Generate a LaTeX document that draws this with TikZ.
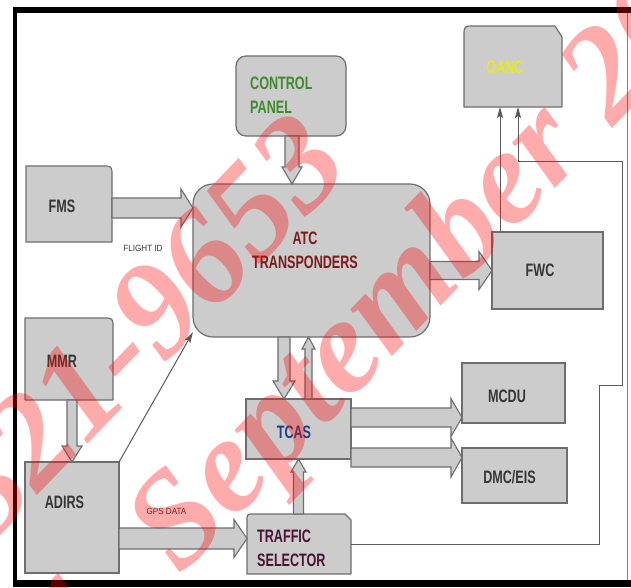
\documentclass[tikz,border=0pt]{standalone}
\usepackage{fontspec}
\setmainfont{Liberation Sans}[FakeStretch=0.70]
\newfontfamily\lblfont{Liberation Sans}[FakeStretch=0.90]
\newfontfamily\wmfont{Liberation Serif}
\usetikzlibrary{calc,arrows.meta}
\pgfdeclarelayer{bg}
\pgfdeclarelayer{wm}
\pgfsetlayers{bg,main,wm}
\definecolor{boxfill}{HTML}{CCCCCC}
\definecolor{boxline}{HTML}{6E6E6E}
\definecolor{linegray}{HTML}{5A5A5A}
\definecolor{txtgray}{HTML}{363636}
\definecolor{atcred}{HTML}{7B1C1C}
\definecolor{cpgreen}{HTML}{3F8A2E}
\definecolor{oancyel}{HTML}{E8E826}
\definecolor{tcasblue}{HTML}{1F3C88}
\definecolor{tspurple}{HTML}{4A1236}
\tikzset{
  box/.style={draw=boxline, fill=boxfill, line width=1.2pt, inner sep=0pt, outer sep=0pt},
  ghost/.style={inner sep=0pt, outer sep=0pt},
  shp/.style={draw=boxline, fill=boxfill, line width=1.2pt, line join=round},
  boxtxt/.style={font=\fontsize{18}{24}\selectfont\bfseries, text=txtgray, inner sep=0pt, align=center},
  lbl/.style={font=\lblfont\fontsize{9}{10}\selectfont, text=txtgray, inner sep=0pt},
  fat/.style={draw=boxline, fill=boxfill, line width=1.1pt, line join=miter},
  fatR/.style n args={3}{fat, to path={let \p1=(\tikztostart), \p2=(\tikztotarget) in
     (\x1,\y1+#1) -- (\x2-#3,\y1+#1) -- (\x2-#3,\y1+#2) -- (\x2,\y1) -- (\x2-#3,\y1-#2) -- (\x2-#3,\y1-#1) -- (\x1,\y1-#1) -- cycle}},
  fatD/.style n args={3}{fat, to path={let \p1=(\tikztostart), \p2=(\tikztotarget) in
     (\x1-#1,\y1) -- (\x1-#1,\y2+#3) -- (\x1-#2,\y2+#3) -- (\x1,\y2) -- (\x1+#2,\y2+#3) -- (\x1+#1,\y2+#3) -- (\x1+#1,\y1) -- cycle}},
  fatU/.style n args={3}{fat, to path={let \p1=(\tikztostart), \p2=(\tikztotarget) in
     (\x1-#1,\y1) -- (\x1-#1,\y2-#3) -- (\x1-#2,\y2-#3) -- (\x1,\y2) -- (\x1+#2,\y2-#3) -- (\x1+#1,\y2-#3) -- (\x1+#1,\y1) -- cycle}},
  thinarr/.style={draw=linegray, line width=1pt, -{Stealth[length=11pt,width=6pt,inset=2pt]}},
  wm/.style={text=red, text opacity=0.33, font=\wmfont\bfseries\itshape\fontsize{136}{136}\selectfont, inner sep=0pt}
}
\begin{document}
\begin{tikzpicture}[x=1pt,y=-1pt]
\useasboundingbox (0,0) rectangle (631,587);
\begin{pgfonlayer}{bg}
  \fill[white] (0,0) rectangle (631,587);
\end{pgfonlayer}

% frame
\fill[black] (13,7) rectangle (631,13);
\fill[black] (13,7) rectangle (17,587);
\fill[black] (13,580) rectangle (631,587);
\draw[gray, line width=1pt] (627.5,13) -- (627.5,580);

% boxes
\node[box, rounded corners=10pt, minimum width=110pt, minimum height=80pt] (cp) at (291,96) {};
\node[ghost, minimum width=98pt, minimum height=81pt] (oanc) at (513,66.5) {};
\node[ghost, minimum width=86pt, minimum height=76pt] (fms) at (69,204) {};
\node[box, rounded corners=20pt, minimum width=237pt, minimum height=153pt] (atc) at (311.5,260.5) {};
\node[box, minimum width=111pt, minimum height=77pt] (fwc) at (547.5,270.5) {};
\node[ghost, minimum width=88pt, minimum height=82pt] (mmr) at (69,359) {};
\node[box, minimum width=94pt, minimum height=111pt] (adirs) at (72,517.5) {};
\node[box, minimum width=105pt, minimum height=60pt] (tcas) at (298.5,429) {};
\node[ghost, minimum width=104pt, minimum height=60pt] (ts) at (299,544) {};
\node[box, minimum width=103pt, minimum height=60pt] (mcdu) at (513.5,393) {};
\node[box, minimum width=105pt, minimum height=55pt] (dmc) at (514.5,475.5) {};

\begin{pgfonlayer}{bg}
  \draw[shp] (oanc.south west) -- ([yshift=-10pt]oanc.north west) .. controls (oanc.north west) .. ([xshift=10pt]oanc.north west)
     -- ([xshift=-7pt]oanc.north east) -- ([yshift=-11pt]oanc.north east) -- (oanc.south east) -- cycle;
  \draw[shp] (fms.south west) -- (fms.north west) -- ([xshift=-10pt]fms.north east) .. controls (fms.north east) .. ([yshift=-10pt]fms.north east)
     -- (fms.south east) -- cycle;
  \draw[shp] (mmr.south west) -- (mmr.north west) -- ([xshift=-10pt]mmr.north east) .. controls (mmr.north east) .. ([yshift=-10pt]mmr.north east)
     -- (mmr.south east) -- cycle;
  \draw[shp] (ts.south west) -- ([yshift=-7pt]ts.north west) .. controls (ts.north west) .. ([xshift=7pt]ts.north west)
     -- ([xshift=-6pt]ts.north east) -- ([yshift=-6pt]ts.north east) -- (ts.south east) -- cycle;
\end{pgfonlayer}

% texts
\node[boxtxt, text=cpgreen, align=left, anchor=west] (tcp) at (250,95.5) {CONTROL\\PANEL};
\node[boxtxt, text=oancyel] (toanc) at (505,67) {OANC};
\node[boxtxt] (tfms) at (62,206.5) {FMS};
\node[boxtxt, text=atcred] (tatc) at (305,250) {ATC\\TRANSPONDERS};
\node[boxtxt] (tfwc) at (540,270) {FWC};
\node[boxtxt] (tmmr) at (62,361) {MMR};
\node[boxtxt] (tadirs) at (64.5,502) {ADIRS};
\node[boxtxt, text=tcasblue] (ttcas) at (294,432.5) {TCAS};
\node[boxtxt, text=tspurple, align=left, anchor=west] (tts) at (257,548.5) {TRAFFIC\\SELECTOR};
\node[boxtxt] (tmcdu) at (507,396.5) {MCDU};
\node[boxtxt] (tdmc) at (509.5,477) {DMC/EIS};
\node[lbl] (flid) at (143,248.5) {FLIGHT ID};
\node[lbl] (gps) at (166.5,511) {GPS DATA};

% helper coordinates
\coordinate (yFMS) at (0,208);
\coordinate (xCP) at (292,0);
\coordinate (xDn) at (284,0);
\coordinate (xUp) at (308.5,0);
\coordinate (yMC) at (0,417.5);
\coordinate (yDM) at (0,457.5);
\coordinate (xMM) at (72,0);
\coordinate (xTS) at (298.5,0);
\coordinate (yAD) at (0,538.5);
\coordinate (xO1) at (500,0);
\coordinate (xO2) at (518,0);
\coordinate (r1) at (599,385);
\coordinate (r2) at (622,161);

% fat arrows
\draw[fatR={10pt}{19pt}{12pt}] (fms.east |- yFMS) to (atc.west |- yFMS);
\draw[fatD={7pt}{10pt}{17pt}] (cp.south -| xCP) to (atc.north -| xCP);
\draw[fatR={9pt}{19pt}{13pt}] (atc.east |- fwc.west) to (fwc.west);
\draw[fatD={6pt}{11pt}{18pt}] (atc.south -| xDn) to (tcas.north -| xDn);
\draw[fatU={3.5pt}{6.5pt}{12pt}] (tcas.north -| xUp) to (atc.south -| xUp);
\draw[fatR={9.5pt}{19pt}{11pt}] (tcas.east |- yMC) to (mcdu.west |- yMC);
\draw[fatR={9.5pt}{19.5pt}{11pt}] (tcas.east |- yDM) to (dmc.west |- yDM);
\draw[fatD={5pt}{10pt}{16pt}] (mmr.south -| xMM) to (adirs.north -| xMM);
\draw[fatU={5pt}{7.5pt}{13pt}] (ts.north -| xTS) to (tcas.south -| xTS);
\draw[fatR={10.5pt}{19pt}{13pt}] (adirs.east |- yAD) to (ts.west |- yAD);

% thin arrows
\draw[thinarr] (adirs.north east) -- ([yshift=5pt]atc.south west);
\draw[thinarr] (fwc.north -| xO1) -- (oanc.south -| xO1);
\draw[thinarr] (ts.east) -| (r1) -- (r1 -| r2) -- (r2) -- (r2 -| xO2) -- (oanc.south -| xO2);

% watermark
\begin{pgfonlayer}{wm}
\begin{scope}
  \clip (0,0) rectangle (631,587);
  \node[wm, anchor=base west, rotate=46] (wm1) at (-9,544) {321-9653};
  \node[wm, anchor=base west, rotate=46] (wm2) at (86,674) {1, September 20};
\end{scope}
\end{pgfonlayer}
\end{tikzpicture}
\end{document}
